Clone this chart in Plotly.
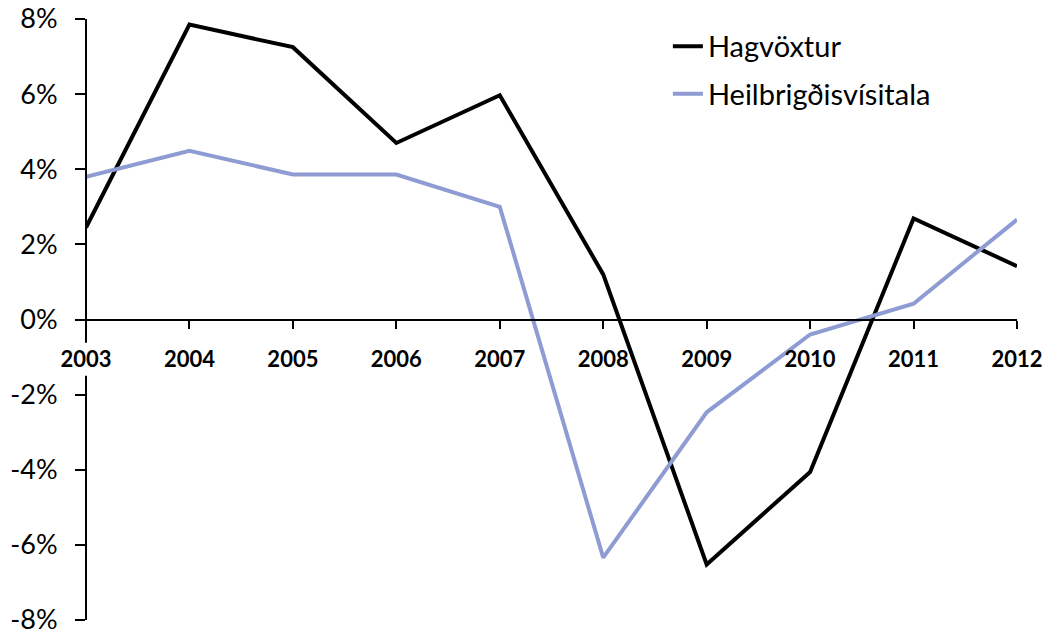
import plotly.graph_objects as go

years = [2003, 2004, 2005, 2006, 2007, 2008, 2009, 2010, 2011, 2012]
hagvoxtur = [2.45, 7.85, 7.25, 4.70, 5.97, 1.20, -6.52, -4.06, 2.69, 1.42]
heilbrigdis = [3.80, 4.49, 3.86, 3.86, 3.00, -6.34, -2.47, -0.40, 0.42, 2.66]
y_ticks = [-8, -6, -4, -2, 0, 2, 4, 6, 8]
y_tick_labels = [f"{v}%" for v in y_ticks]

FONT = "Lato"

fig = go.Figure()
fig.add_trace(go.Scatter(
    x=years, y=hagvoxtur, mode="lines", name="Hagvöxtur",
    line=dict(color="#000000", width=4), legendgroup="a",
))
fig.add_trace(go.Scatter(
    x=years, y=heilbrigdis, mode="lines", name="Heilbrigðisvísitala",
    line=dict(color="#8E9CD3", width=4), legendgroup="b",
))

# y-axis line with a gap where the x tick labels sit
for y0, y1 in [(8, -0.62), (-1.5, -8)]:
    fig.add_shape(type="line", xref="paper", yref="y", x0=0, x1=0, y0=y0, y1=y1,
                  line=dict(color="black", width=2))

fig.update_layout(
    template="none",
    width=1046, height=633,
    margin=dict(l=86, r=29, t=19, b=13, autoexpand=False),
    paper_bgcolor="white", plot_bgcolor="white",
    font=dict(family=FONT, color="black"),
    showlegend=True,
    legend=dict(
        x=0.625, y=0.997, xanchor="left", yanchor="top",
        font=dict(family=FONT, size=29, color="black"),
        bgcolor="rgba(0,0,0,0)", tracegroupgap=7,
    ),
    hovermode=False,
    xaxis=dict(
        range=[2003, 2012], anchor="free", position=0.5, automargin=False,
        tickmode="array", tickvals=years, ticktext=[str(y) for y in years],
        showline=True, linecolor="black", linewidth=2,
        ticks="outside", ticklen=8, tickwidth=2, tickcolor="black",
        showgrid=False, zeroline=False,
        tickfont=dict(family=FONT, size=22, color="black", weight="bold"),
        ticklabelstandoff=12, ticklabeloverflow="allow",
    ),
    yaxis=dict(
        range=[-8, 8], automargin=False,
        tickmode="array", tickvals=y_ticks, ticktext=y_tick_labels,
        showline=False, ticks="outside", ticklen=10, tickwidth=2, tickcolor="black",
        showgrid=False, zeroline=False,
        tickfont=dict(family=FONT, size=27, color="black"),
        ticklabelstandoff=12, ticklabeloverflow="allow",
    ),
)

# remove the browser's default 8px body margin so the figure fills the window
fig.write_html("out.html", config={"displayModeBar": False},
               post_script="document.body.style.margin='0';")
